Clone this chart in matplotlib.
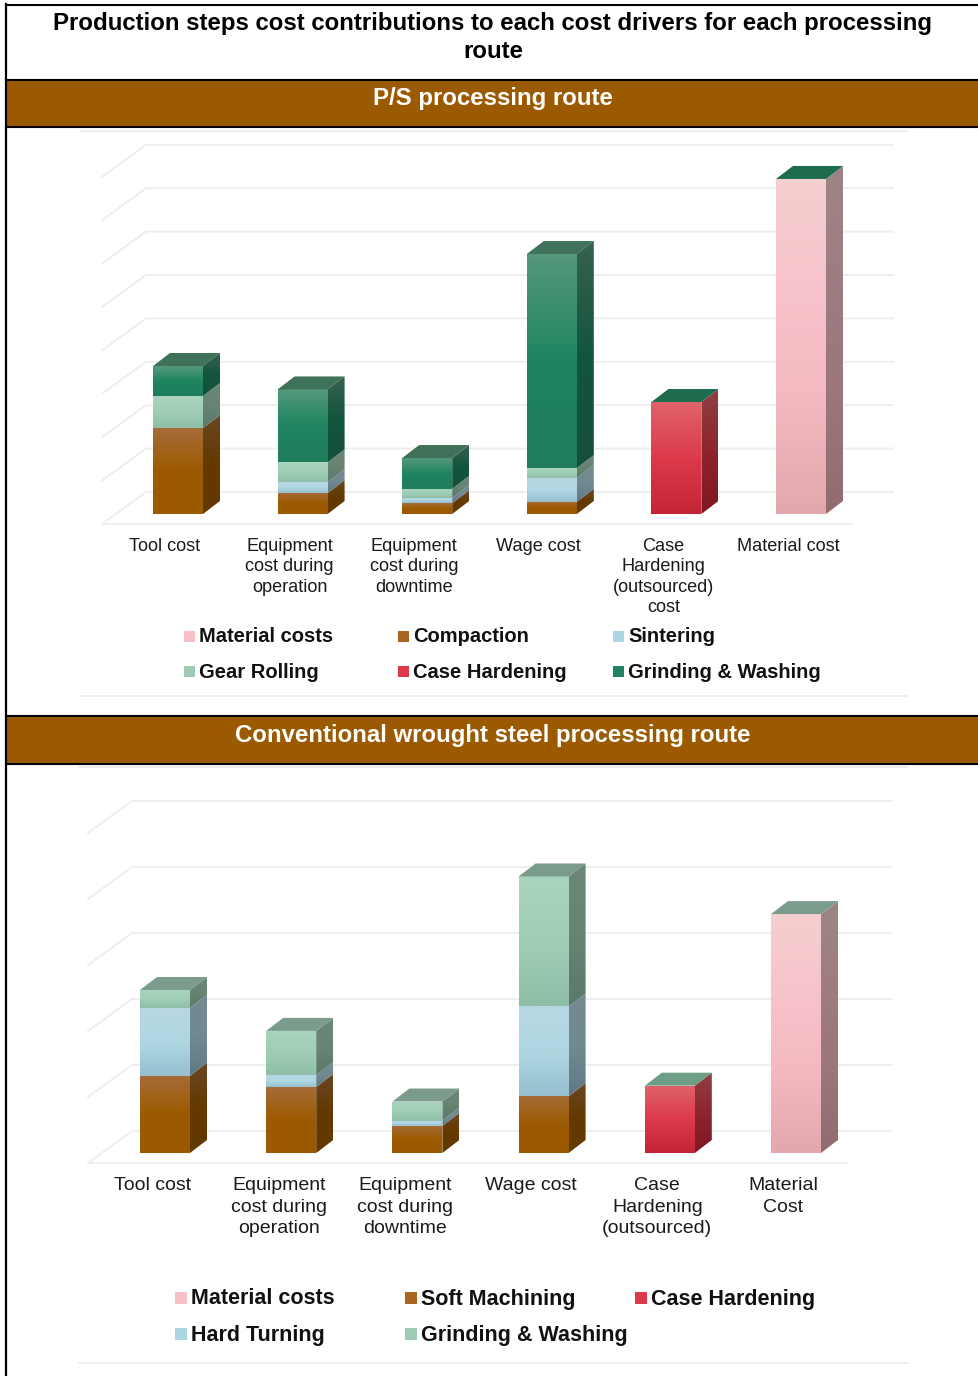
import numpy as np
import matplotlib
matplotlib.use('Agg')
import matplotlib.pyplot as plt
from matplotlib.colors import LinearSegmentedColormap, to_rgb
from matplotlib.patches import Polygon, Rectangle

plt.rcParams['font.family'] = ['Liberation Sans', 'DejaVu Sans']

W, H = 979, 1376

# chart values, in grid steps
categories_ps = ['Tool cost', 'Equipment\ncost during\noperation', 'Equipment\ncost during\ndowntime',
                 'Wage cost', 'Case\nHardening\n(outsourced)\ncost', 'Material cost']
ps_compaction = [1.98, 0.48, 0.25, 0.28, 0, 0]
ps_sintering = [0, 0.25, 0.12, 0.55, 0, 0]
ps_gear_rolling = [0.74, 0.46, 0.21, 0.23, 0, 0]
ps_grinding = [0.69, 1.68, 0.71, 4.93, 0, 0]
ps_case = [0, 0, 0, 0, 2.58, 0]
ps_material = [0, 0, 0, 0, 0, 7.72]

categories_ws = ['Tool cost', 'Equipment\ncost during\noperation', 'Equipment\ncost during\ndowntime',
                 'Wage cost', 'Case\nHardening\n(outsourced)', 'Material\nCost']
ws_soft = [1.17, 1.00, 0.41, 0.86, 0, 0]
ws_hard = [1.03, 0.18, 0.08, 1.36, 0, 0]
ws_grinding = [0.27, 0.67, 0.29, 1.97, 0, 0]
ws_case = [0, 0, 0, 0, 1.02, 0]
ws_material = [0, 0, 0, 0, 0, 3.62]

# gradient stops per series, top to bottom
BROWN = ['#a66c38', '#9c5a00', '#9c5a00']
ICE = ['#b8d6e3', '#afd8e3', '#96bfd0']
MINT = ['#a9d4bd', '#a0cdb5', '#8fbfa8']
GREEN = ['#55987c', '#1e8560', '#207c5c']
RED = ['#e0626a', '#dc3a4a', '#c42535']
PINK = ['#f5cfd0', '#f7c3ca', '#f4b8c0', '#e3a8ae']


def gradient_map(stops, factor=1.0):
    cols = [tuple(c * factor for c in to_rgb(s)) for s in stops]
    return LinearSegmentedColormap.from_list('g', cols)


def make_axes(fig, left, right, top, bottom):
    return fig.add_axes([left / W, 1 - bottom / H, (right - left) / W, (bottom - top) / H])


def draw_chart(ax, cats, series, geo):
    x0, xstep, y0, ystep = geo['x0'], geo['xstep'], geo['y0'], geo['ystep']
    pos = ax.get_position()
    l, r = pos.x0 * W, pos.x1 * W
    t, b = (1 - pos.y1) * H, (1 - pos.y0) * H
    xlim = ((l - x0) / xstep, (r - x0) / xstep)
    ylim = ((y0 - b) / ystep, (y0 - t) / ystep)

    # walls: floor + grid steps
    fx0, fx1 = (geo['floor_l'] - x0) / xstep, (geo['floor_r'] - x0) / xstep
    bx0, bx1 = (geo['floor_l'] + 44 - x0) / xstep, (geo['back_r'] - x0) / xstep
    fy = (y0 - geo['floor_y']) / ystep
    by = fy + 32 / ystep
    grid_c = '#eeeeee'
    ax.plot([fx0, fx1], [fy, fy], color=grid_c, lw=1.4, zorder=1, clip_on=False)
    for k in range(geo['levels'] + 1):
        ax.plot([fx0, bx0, bx1], [fy + k, by + k, by + k], color=grid_c, lw=1.4, zorder=1)

    w = 50 / xstep
    dx, dy = 17 / xstep, 13 / ystep
    xs = np.arange(len(cats))
    bottoms = np.zeros(len(cats))
    for vals, stops in series:
        vals = np.array(vals, dtype=float)
        bars = ax.bar(xs, vals, w, bottom=bottoms, color='none', linewidth=0, zorder=3)
        front = gradient_map(stops)
        side = gradient_map(stops, 0.64)
        for i, bar in enumerate(bars):
            if vals[i] <= 0:
                continue
            b0, b1 = bottoms[i], bottoms[i] + vals[i]
            g = np.linspace(0, 1, 64).reshape(-1, 1)
            im = ax.imshow(g, extent=(i - w / 2, i + w / 2, b0, b1), origin='upper', cmap=front,
                           aspect='auto', zorder=3)
            im.set_clip_path(bar)
            poly = Polygon([(i + w / 2, b0), (i + w / 2 + dx, b0 + dy), (i + w / 2 + dx, b1 + dy),
                            (i + w / 2, b1)], closed=True, facecolor='none', edgecolor='none', zorder=3)
            ax.add_patch(poly)
            im2 = ax.imshow(g, extent=(i + w / 2, i + w / 2 + dx, b0, b1 + dy), origin='upper',
                            cmap=side, aspect='auto', zorder=3)
            im2.set_clip_path(poly)
        bottoms = bottoms + vals
    # top faces
    for i, top in enumerate(bottoms):
        ax.add_patch(Polygon([(i - w / 2, top), (i - w / 2 + dx, top + dy), (i + w / 2 + dx, top + dy),
                              (i + w / 2, top)], closed=True, facecolor=geo['top_c'][i],
                             edgecolor='none', zorder=4))

    ax.set_xlim(xlim)
    ax.set_ylim(ylim)
    ax.set_xticks(xs - geo['lab_shift'] / xstep)
    ax.set_xticklabels(cats, fontsize=geo['tick_fs'], color='#1a1a1a', linespacing=geo['ls'])
    ax.tick_params(axis='x', length=0, pad=geo['pad'])
    ax.set_yticks([])
    for s in ax.spines.values():
        s.set_visible(False)
    ax.patch.set_alpha(0)


def px_rect(fig, x0, y0, x1, y1, **kw):
    fig.add_artist(Rectangle((x0 / W, 1 - y1 / H), (x1 - x0) / W, (y1 - y0) / H,
                             transform=fig.transFigure, **kw))


def px_line(fig, x0, y0, x1, y1, **kw):
    fig.add_artist(plt.Line2D([x0 / W, x1 / W], [1 - y0 / H, 1 - y1 / H], transform=fig.transFigure, **kw))


def legend_rows(fig, names, colors, xs, ys, size, fs):
    for n, c, (x, y) in zip(names, colors, [(a, b) for b in ys for a in xs]):
        px_rect(fig, x, y - size / 2, x + size, y + size / 2, facecolor=c, edgecolor='none')
        fig.text((x + size + 4) / W, 1 - (y + 1) / H, n, fontsize=fs, fontweight='bold', va='center',
                 color='#111111')


fig = plt.figure(figsize=(W / 100, H / 100), dpi=100)

# header bands and frame
BAND = '#9c5a00'
px_rect(fig, 6, 80, 979, 127, facecolor=BAND, edgecolor='none')
px_rect(fig, 6, 716, 979, 764, facecolor=BAND, edgecolor='none')
for y in [5, 80, 127, 716, 764]:
    px_line(fig, 6, y, W, y, color='black', lw=1.5)
px_line(fig, 6, 4, 6, H, color='black', lw=1.6)

for y, x0, x1 in [(131, 80, 907), (696, 80, 907), (767, 79, 908), (1363, 79, 908)]:
    px_line(fig, x0, y, x1, y, color='#ededed', lw=1.3)

fig.text(493 / W, 1 - 37.5 / H, 'Production steps cost contributions to each cost drivers for each processing\nroute',
         ha='center', va='center', fontsize=17.3, fontweight='bold', color='black', linespacing=1.3)
fig.text(493 / W, 1 - 99 / H, 'P/S processing route', ha='center', va='center', fontsize=17.3,
         fontweight='bold', color='white')
fig.text(493 / W, 1 - 736 / H, 'Conventional wrought steel processing route', ha='center', va='center',
         fontsize=17.3, fontweight='bold', color='white')

# P/S chart
ax1 = make_axes(fig, 60, 920, 135, 524)
geo1 = dict(x0=178, xstep=124.6, y0=514, ystep=43.4, floor_l=102, floor_r=852, floor_y=524, back_r=893,
            levels=8, lab_shift=13, tick_fs=13.1, ls=1.27, pad=10,
            top_c=['#3f7259', '#3f7259', '#3f7259', '#3f7259', '#1f6b4d', '#1f6b4d'])
draw_chart(ax1, categories_ps, [(ps_compaction, BROWN), (ps_sintering, ICE), (ps_gear_rolling, MINT),
                                (ps_grinding, GREEN), (ps_case, RED), (ps_material, PINK)], geo1)

# wrought steel chart
ax2 = make_axes(fig, 50, 920, 775, 1163)
geo2 = dict(x0=165, xstep=126.2, y0=1153, ystep=66, floor_l=88, floor_r=847, floor_y=1163, back_r=891,
            levels=5, lab_shift=12.5, tick_fs=14, ls=1.36, pad=10,
            top_c=['#7b9c8c', '#7b9c8c', '#7b9c8c', '#7b9c8c', '#6f9e86', '#7b9c8c'])
draw_chart(ax2, categories_ws, [(ws_soft, BROWN), (ws_hard, ICE), (ws_grinding, MINT),
                                (ws_case, RED), (ws_material, PINK)], geo2)

legend_rows(fig, ['Material costs', 'Compaction', 'Sintering', 'Gear Rolling', 'Case Hardening', 'Grinding & Washing'],
            ['#f5c0c8', '#a8671f', '#aed6e2', '#9fcbb4', '#dc3a4a', '#1e8560'],
            [184, 398, 613], [636, 671], 11, 14.5)
legend_rows(fig, ['Material costs', 'Soft Machining', 'Case Hardening', 'Hard Turning', 'Grinding & Washing'],
            ['#f5c0c8', '#a8671f', '#dc3a4a', '#aed6e2', '#9fcbb4'],
            [175, 405, 635], [1298, 1334], 12, 15.5)

fig.savefig('out.png', dpi=100)
